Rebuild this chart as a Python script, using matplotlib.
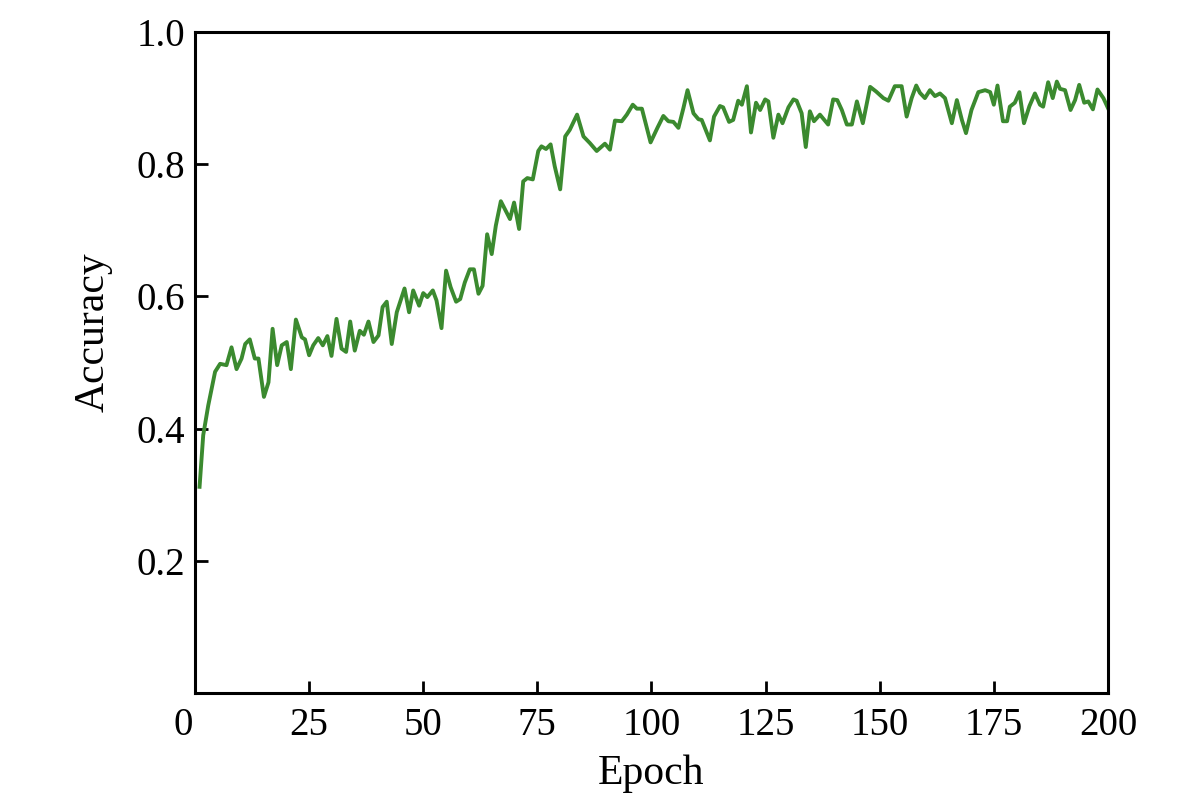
import matplotlib.pyplot as plt
import matplotlib.transforms as mtransforms

plt.rcParams['font.family'] = ['Liberation Serif', 'DejaVu Serif']

# epoch / accuracy
epoch = [1.0, 1.8, 2.9, 4.4, 5.5, 6.9, 8.0, 9.1, 10.2, 11.0, 12.0, 13.1, 13.9, 15.1, 16.1,
         17.0, 18.0, 19.0, 20.1, 21.0, 22.1, 23.4, 24.1, 25.0, 25.9, 27.0, 28.0, 29.0, 29.9,
         31.0, 32.1, 33.1, 34.0, 35.0, 36.1, 37.0, 38.0, 39.1, 40.2, 41.1, 42.0, 43.1, 44.2,
         45.9, 46.9, 47.8, 49.1, 50.0, 50.9, 52.1, 52.9, 54.0, 55.0, 56.0, 57.2, 58.1, 59.1,
         60.2, 61.1, 62.1, 63.0, 64.0, 65.0, 65.9, 67.0, 67.9, 69.0, 69.9, 71.0, 71.9, 72.8,
         74.0, 75.2, 75.9, 76.9, 77.9, 78.8, 80.0, 81.1, 82.1, 83.7, 85.1, 86.5, 88.0, 89.8,
         90.9, 92.0, 93.5, 94.6, 95.9, 96.8, 97.9, 99.8, 101.3, 102.6, 103.7, 104.8, 105.9,
         107.0, 107.9, 109.2, 110.3, 111.0, 112.8, 113.7, 115.0, 115.7, 117.0, 117.9, 119.0,
         119.8, 120.9, 121.8, 122.9, 123.8, 124.9, 125.6, 126.7, 127.8, 128.7, 130.0, 131.1,
         131.8, 132.9, 133.8, 134.7, 135.6, 136.9, 138.7, 139.8, 140.7, 141.7, 142.8, 143.9,
         145.0, 146.3, 147.9, 149.2, 150.8, 151.9, 153.3, 154.8, 155.9, 157.0, 158.0, 158.8,
         159.9, 161.0, 162.1, 163.2, 164.3, 165.8, 166.9, 168.0, 168.9, 170.1, 171.6, 173.1,
         174.2, 175.0, 175.8, 177.0, 177.9, 178.5, 179.6, 180.6, 181.6, 182.8, 184.0, 185.1,
         185.8, 186.9, 187.9, 188.8, 189.5, 190.6, 191.8, 192.8, 193.7, 194.8, 195.7, 196.7,
         197.7, 199.0, 200.0]
acc = [0.312, 0.39, 0.435, 0.486, 0.498, 0.496, 0.523, 0.49, 0.506, 0.528, 0.535, 0.506, 0.506,
       0.448, 0.47, 0.551, 0.496, 0.526, 0.531, 0.49, 0.565, 0.538, 0.535, 0.511, 0.526, 0.537,
       0.526, 0.54, 0.51, 0.566, 0.521, 0.516, 0.562, 0.518, 0.548, 0.542, 0.562, 0.531, 0.541,
       0.584, 0.592, 0.528, 0.576, 0.612, 0.576, 0.609, 0.586, 0.605, 0.599, 0.609, 0.594,
       0.552, 0.639, 0.614, 0.592, 0.596, 0.621, 0.641, 0.641, 0.604, 0.616, 0.694, 0.664,
       0.707, 0.744, 0.732, 0.717, 0.742, 0.702, 0.774, 0.779, 0.777, 0.82, 0.827, 0.823, 0.83,
       0.797, 0.762, 0.842, 0.852, 0.875, 0.842, 0.832, 0.82, 0.831, 0.822, 0.866, 0.865, 0.875,
       0.89, 0.884, 0.884, 0.833, 0.855, 0.873, 0.865, 0.864, 0.855, 0.885, 0.912, 0.877, 0.868,
       0.867, 0.836, 0.872, 0.888, 0.886, 0.864, 0.867, 0.896, 0.89, 0.918, 0.848, 0.893, 0.882,
       0.898, 0.895, 0.84, 0.875, 0.862, 0.886, 0.898, 0.896, 0.877, 0.826, 0.88, 0.865, 0.875,
       0.86, 0.898, 0.897, 0.882, 0.86, 0.86, 0.895, 0.862, 0.917, 0.91, 0.9, 0.896, 0.918,
       0.918, 0.872, 0.9, 0.919, 0.908, 0.9, 0.912, 0.903, 0.907, 0.9, 0.862, 0.897, 0.867,
       0.847, 0.882, 0.909, 0.912, 0.909, 0.89, 0.919, 0.865, 0.865, 0.887, 0.893, 0.909, 0.862,
       0.888, 0.907, 0.89, 0.887, 0.924, 0.9, 0.925, 0.914, 0.912, 0.882, 0.897, 0.92, 0.893,
       0.895, 0.883, 0.913, 0.9, 0.885]

xticks = [0, 25, 50, 75, 100, 125, 150, 175, 200]
yticks = [0.2, 0.4, 0.6, 0.8, 1.0]

fig = plt.figure(figsize=(12, 8.1), dpi=100)
ax = fig.add_axes([0.1625, 0.1444, 0.7608, 0.8161])
ax.plot(epoch, acc, color='#3b8a2f', lw=2.8)

ax.set_xlim(0, 200)
ax.set_ylim(0, 1.0)
ax.set_xticks(xticks)
ax.set_yticks(yticks)
ax.set_yticklabels(['%.1f' % v for v in yticks])
ax.tick_params(direction='in', length=9, width=2, labelsize=28,
               top=False, right=False)
ax.tick_params(axis='y', pad=7)
ax.tick_params(axis='x', pad=10)
for s in ax.spines.values():
    s.set_linewidth(2.2)

# the "0" label sits a bit left of the corner
lab0 = ax.get_xticklabels()[0]
lab0.set_transform(lab0.get_transform() +
                   mtransforms.ScaledTranslation(-12 / 100, 0, fig.dpi_scale_trans))

ax.set_xlabel('Epoch', fontsize=30)
ax.set_ylabel('Accuracy', fontsize=30)
ax.xaxis.set_label_coords(0.5, -0.093)
ax.yaxis.set_label_coords(-0.09, 0.546)

fig.savefig('out.png', dpi=100)
